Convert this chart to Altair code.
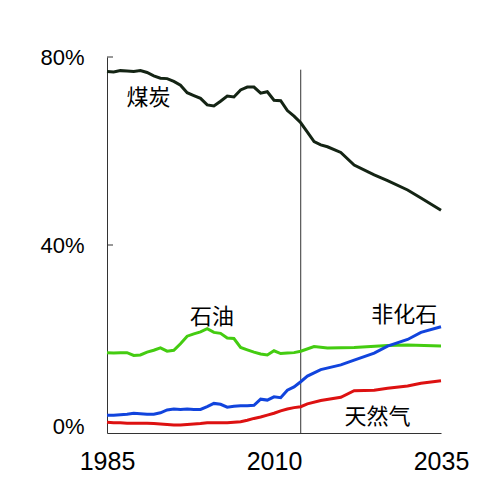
import altair as alt
import pandas as pd

coal_years = [1985,1986,1987,1988,1989,1990,1991,1992,1993,1994,1995,1996,1997,1998,1999,2000,2001,2002,2003,2004,2005,2006,2007,2008,2009,2010,2011,2012,2013,2014,2015,2016,2017,2018,2020,2022,2025,2027,2030,2032,2035]
coal_values = [76.9,76.8,77.1,77.0,76.9,77.1,76.7,76.0,75.5,75.4,74.8,74.0,72.4,71.8,71.2,69.8,69.6,70.6,71.7,71.5,73.0,73.6,73.6,72.3,72.6,70.8,70.7,68.6,67.4,66.0,64.0,62.0,61.3,60.9,59.7,57.0,54.9,53.7,51.7,50.0,47.4]

oil_years = [1985,1986,1987,1988,1989,1990,1991,1992,1993,1994,1995,1996,1997,1998,1999,2000,2001,2002,2003,2004,2005,2006,2007,2008,2009,2010,2011,2012,2013,2014,2016,2018,2022,2027,2030,2035]
oil_values = [17.1,17.0,17.1,17.1,16.5,16.6,17.2,17.6,18.1,17.4,17.6,19.0,20.6,21.1,21.5,22.2,21.4,21.2,20.2,20.1,18.2,17.7,17.2,16.8,16.6,17.5,16.9,17.0,17.1,17.4,18.4,18.1,18.2,18.6,18.7,18.5]

nonfossil_years = [1985,1986,1987,1988,1989,1990,1991,1992,1993,1994,1995,1996,1997,1998,1999,2000,2001,2002,2003,2004,2005,2006,2007,2008,2009,2010,2011,2012,2013,2014,2015,2017,2020,2022,2025,2027,2030,2032,2035]
nonfossil_values = [3.8,3.8,3.9,4.0,4.2,4.1,4.0,4.0,4.3,4.9,5.1,5.0,5.1,5.0,5.0,5.6,6.3,6.1,5.5,5.7,5.8,5.8,5.9,7.2,7.0,7.7,7.5,9.1,9.8,10.9,12.1,13.5,14.5,15.5,17.0,18.5,19.9,21.4,22.6]

gas_years = [1985,1986,1987,1988,1989,1990,1991,1992,1993,1994,1995,1996,1997,1998,1999,2000,2001,2002,2003,2004,2005,2006,2007,2008,2009,2010,2011,2012,2013,2014,2015,2017,2020,2022,2025,2027,2030,2032,2035]
gas_values = [2.3,2.2,2.2,2.1,2.1,2.1,2.1,2.0,1.9,1.8,1.7,1.7,1.8,1.9,2.0,2.2,2.2,2.2,2.2,2.3,2.4,2.7,3.1,3.4,3.8,4.2,4.7,5.1,5.4,5.6,6.2,6.9,7.6,9.0,9.1,9.5,10.0,10.6,11.1]

series_names = ["煤炭", "石油", "非化石", "天然气"]
series_colors = ["#142414", "#44cc11", "#1144dd", "#dd1111"]

label_texts = ["煤炭", "石油", "非化石", "天然气"]
label_years = [1991.2, 2000.7, 2029.5, 2025.5]
label_values = [71.3, 24.6, 25.1, 3.5]

divider_year = [2014]
divider_top = [77.3]
y_ticks = [0, 40, 80]
x_ticks = [1985, 2010, 2035]

rows = []
for name, ys, vs in zip(series_names,
                        [coal_years, oil_years, nonfossil_years, gas_years],
                        [coal_values, oil_values, nonfossil_values, gas_values]):
    for y, v in zip(ys, vs):
        rows.append({"series": name, "year": y, "value": v})
df = pd.DataFrame(rows)

labels_df = pd.DataFrame({"text": label_texts, "year": label_years, "value": label_values})
divider_df = pd.DataFrame({"year": divider_year, "top": divider_top, "bottom": [0]})
ticks_df = pd.DataFrame({"value": [v for v in y_ticks if v > 0]})

xscale = alt.Scale(domain=[1985, 2035], nice=False, zero=False)
yscale = alt.Scale(domain=[0, 80], nice=False)

x_axis = alt.Axis(values=x_ticks, format="d", ticks=False, tickSize=0, grid=False,
                  labelFontSize=25, labelFont="Liberation Sans", labelColor="#000",
                  labelPadding=16, labelFlush=False, domainColor="#333", title=None)
y_axis = alt.Axis(values=y_ticks, labelExpr="datum.value + '%'", ticks=False, tickSize=0,
                  grid=False, labelFontSize=22, labelFont="Liberation Sans", labelColor="#000",
                  labelPadding=23, domainColor="#333", title=None,
                  labelBaseline=alt.condition("datum.value == 0", alt.value("alphabetic"), alt.value("middle")))

lines = alt.Chart(df).mark_line(strokeWidth=3).encode(
    x=alt.X("year:Q", scale=xscale, axis=x_axis),
    y=alt.Y("value:Q", scale=yscale, axis=y_axis),
    color=alt.Color("series:N", scale=alt.Scale(domain=series_names, range=series_colors), legend=None),
)

divider = alt.Chart(divider_df).mark_rule(color="#333", strokeWidth=1).encode(
    x="year:Q", y="bottom:Q", y2="top:Q"
)

inner_ticks = alt.Chart(ticks_df).mark_rule(color="#333", strokeWidth=1).encode(
    y="value:Q", x=alt.value(0), x2=alt.value(6)
)

texts = alt.Chart(labels_df).mark_text(fontSize=22, font="Noto Sans CJK SC", color="#000").encode(
    x="year:Q", y="value:Q", text="text:N"
)

chart = alt.layer(divider, inner_ticks, lines, texts).properties(
    width=334, height=376,
    autosize=alt.AutoSizeParams(type="none"),
    padding={"left": 99, "top": 49, "right": 50, "bottom": 60},
).configure_view(stroke=None)

chart.save("out.html", embed_options={"renderer": "svg", "actions": False})
